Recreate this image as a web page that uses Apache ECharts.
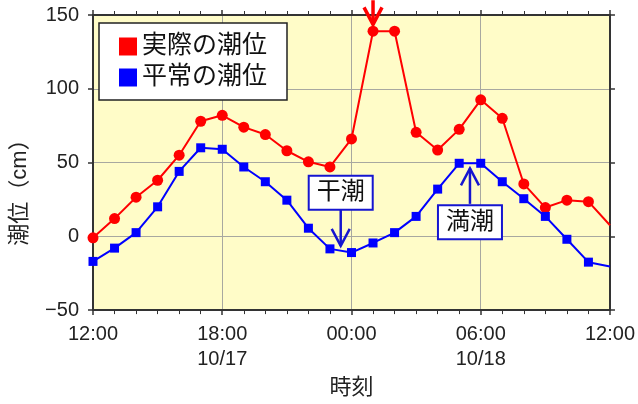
<!DOCTYPE html>
<html><head><meta charset="utf-8">
<script src="https://cdn.jsdelivr.net/npm/echarts@6/dist/echarts.min.js"></script>
<style>html,body{margin:0;padding:0;background:#fff}#c{width:638px;height:404px}</style>
</head><body><div id="c"></div>
<script>
// hours since 12:00 on 10/17
const hours = [0,1,2,3,4,5,6,7,8,9,10,11,12,13,14,15,16,17,18,19,20,21,22,23,24];
const actualTide = [-1,12,26.5,38,55,78,82,74,69,58,50.5,47,66,139,139,70.5,58.5,72.5,92.5,80,35.5,19.5,24.5,23.5,7.5];
const normalTide = [-17,-8,2.5,20,44,60,59,47,37,24.5,5.5,-8.5,-11,-4.5,2.5,13.5,32,49.5,49.5,37,25.5,13.5,-2,-17.5,-20.5];
const xTickLabels = {0:'12:00', 6:'18:00\n10/17', 12:'00:00', 18:'06:00\n10/18', 24:'12:00'};
const seriesNames = ['実際の潮位', '平常の潮位'];
// annotations: label box centre and arrow (data coords)
const boxLabels = [
  {text:'干潮', x:11.5, y:29.6},
  {text:'満潮', x:17.5, y:9.6}
];
const arrows = [
  {x:11.5, from:19.3, to:-6.5, color:'#1515d0', width:2.5},
  {x:17.5, from:22, to:46, color:'#1515d0', width:2.5},
  {x:13, from:160, to:143.6, color:'#ff0000', width:3.5}
];

const FONT = "'Liberation Sans','Noto Sans CJK JP',sans-serif";
const chart = echarts.init(document.getElementById('c'));
const lastNoSymbol = (arr) => arr.map((v,i) => i === arr.length-1 ? {value:[hours[i], v], symbol:'none'} : [hours[i], v]);

const axisLineStyle = {color:'#333', width:2};
chart.setOption({
  animation:false,
  textStyle:{fontFamily:FONT},
  grid:{left:93, right:27, top:15, bottom:88, show:true, backgroundColor:'#fffcc8', borderWidth:0},
  legend:{
    orient:'vertical', left:99, top:23, icon:'rect', itemWidth:18, itemHeight:18, itemGap:6,
    padding:[11,20,10,20], backgroundColor:'#fff', borderColor:'#222', borderWidth:1.5,
    textStyle:{fontSize:25, color:'#111', fontFamily:FONT},
    data:seriesNames
  },
  xAxis:[{
    type:'value', min:0, max:24, interval:6, position:'bottom',
    axisLine:{show:true, lineStyle:axisLineStyle, onZero:false},
    axisTick:{show:true, length:5, lineStyle:{color:'#333', width:1.5}},
    minorTick:{show:true, splitNumber:6, length:4, lineStyle:{color:'#333', width:1}},
    splitLine:{show:true, lineStyle:{color:'#a8a8a0', width:1}},
    axisLabel:{formatter:v => xTickLabels[v] || '', fontSize:20, color:'#222', lineHeight:25, margin:12},
    name:'時刻', nameLocation:'middle', nameGap:66, nameTextStyle:{fontSize:22, color:'#222'}
  },{
    type:'value', min:0, max:24, interval:6, position:'top',
    axisLine:{show:true, lineStyle:axisLineStyle, onZero:false},
    axisTick:{show:true, length:5, lineStyle:{color:'#333', width:1.5}},
    minorTick:{show:true, splitNumber:6, length:4, lineStyle:{color:'#333', width:1}},
    splitLine:{show:false}, axisLabel:{show:false}
  }],
  yAxis:[{
    type:'value', min:-50, max:150, interval:50, position:'left',
    axisLine:{show:true, lineStyle:axisLineStyle, onZero:false},
    axisTick:{show:true, length:5, lineStyle:{color:'#333', width:1.5}},
    splitLine:{show:true, lineStyle:{color:'#a8a8a0', width:1}},
    axisLabel:{fontSize:20, color:'#222', margin:14, formatter:v => v < 0 ? '\u2212' + Math.abs(v) : String(v)}
  },{
    type:'value', min:-50, max:150, interval:50, position:'right',
    axisLine:{show:true, lineStyle:axisLineStyle, onZero:false},
    axisTick:{show:true, length:5, lineStyle:{color:'#333', width:1.5}},
    splitLine:{show:false}, axisLabel:{show:false}
  }],
  series:[{
    name:seriesNames[0], type:'line', data:lastNoSymbol(actualTide), clip:true,
    symbol:'circle', symbolSize:11, itemStyle:{color:'#f00'}, lineStyle:{color:'#f00', width:2}
  },{
    name:seriesNames[1], type:'line', data:lastNoSymbol(normalTide), clip:true,
    symbol:'rect', symbolSize:9, itemStyle:{color:'#00f'}, lineStyle:{color:'#00f', width:2}
  }]
});

const px = (x, y) => chart.convertToPixel({gridIndex:0}, [x, y]);
const graphics = [];
// y axis name
graphics.push({type:'text', x:20, y:187, rotation:Math.PI/2, z:10,
  style:{text:'潮位（cm）', font:'22px ' + FONT, fill:'#222', align:'center', verticalAlign:'middle'}});
arrows.forEach(a => {
  const p0 = px(a.x, a.from), p1 = px(a.x, a.to);
  const dir = p1[1] > p0[1] ? 1 : -1;
  graphics.push({type:'line', z:20, shape:{x1:p0[0], y1:p0[1], x2:p1[0], y2:p1[1]},
    style:{stroke:a.color, lineWidth:a.width}});
  graphics.push({type:'polyline', z:20,
    shape:{points:[[p1[0]-9, p1[1]-dir*17],[p1[0], p1[1]],[p1[0]+9, p1[1]-dir*17]]},
    style:{stroke:a.color, lineWidth:a.width, fill:null}});
});
boxLabels.forEach(b => {
  const p = px(b.x, b.y);
  graphics.push({type:'text', x:p[0], y:p[1], z:30,
    style:{text:b.text, font:'24px ' + FONT, fill:'#111', align:'center', verticalAlign:'middle',
      backgroundColor:'#fff', borderColor:'#1515d0', borderWidth:2, padding:[4,7]}});
});
chart.setOption({graphic:graphics});
</script>
</body></html>
